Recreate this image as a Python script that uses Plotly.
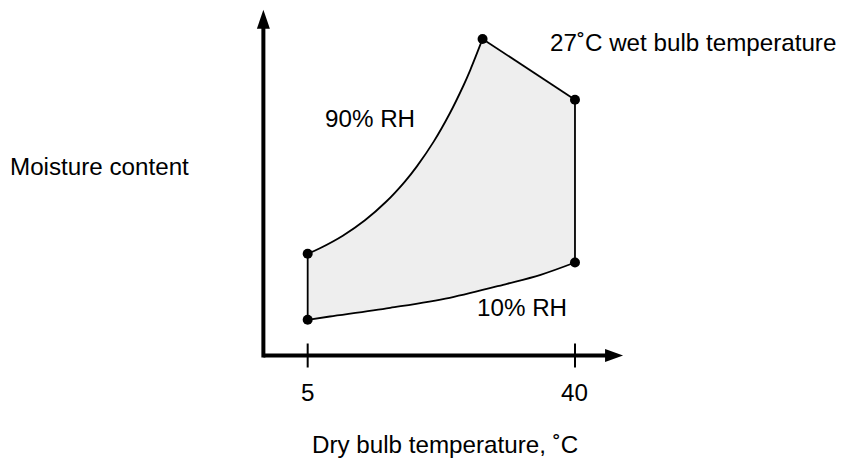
import plotly.graph_objects as go

# ---- data (dry bulb temperature, °C ; moisture content, arbitrary g/kg-like units) ----
rh90_temp = [5.0, 6.6, 9.6, 12.5, 15.3, 17.7, 19.3, 21.5, 23.6, 25.4, 26.3, 27.9]
rh90_moist = [7.12, 7.51, 8.39, 9.47, 10.78, 12.16, 13.24, 14.97, 16.94, 18.90, 20.0, 22.16]
rh10_temp = [5.0, 7.9, 15.8, 23.6, 31.1, 35.5, 40.0]
rh10_moist = [2.50, 2.73, 3.34, 4.04, 5.02, 5.65, 6.51]
wetbulb_temp = [27.9, 40.0]
wetbulb_moist = [22.16, 17.9]
corner_temp = [5.0, 5.0, 27.9, 40.0, 40.0]
corner_moist = [2.50, 7.12, 22.16, 17.9, 6.51]
tick_vals = [5, 40]
tick_text = ["5", "40"]

FONT = "Liberation Sans, Arial, Helvetica, sans-serif"
FS = 24.2
BLACK = "#000000"

fig = go.Figure()

# shaded region
poly_x = rh10_temp + [wetbulb_temp[1]] + rh90_temp[::-1]
poly_y = rh10_moist + [wetbulb_moist[1]] + rh90_moist[::-1]
fig.add_trace(go.Scatter(x=poly_x, y=poly_y, fill="toself", fillcolor="#eeeeee",
                         mode="lines", line=dict(width=0), hoverinfo="skip"))

line_style = dict(color=BLACK, width=1.8)
fig.add_trace(go.Scatter(x=rh90_temp, y=rh90_moist, mode="lines",
                         line=dict(shape="spline", **line_style)))
fig.add_trace(go.Scatter(x=rh10_temp, y=rh10_moist, mode="lines",
                         line=dict(shape="spline", **line_style)))
fig.add_trace(go.Scatter(x=wetbulb_temp, y=wetbulb_moist, mode="lines", line=line_style))
fig.add_trace(go.Scatter(x=[rh10_temp[-1], wetbulb_temp[1]], y=[rh10_moist[-1], wetbulb_moist[1]],
                         mode="lines", line=line_style))
fig.add_trace(go.Scatter(x=[rh10_temp[0], rh90_temp[0]], y=[rh10_moist[0], rh90_moist[0]],
                         mode="lines", line=line_style))
fig.add_trace(go.Scatter(x=corner_temp, y=corner_moist, mode="markers",
                         marker=dict(color=BLACK, size=10)))

# axes drawn as arrows
x_origin, y_origin = -0.8, 0.0
x_tip, y_tip = 46.3, 24.2
shapes = [
    dict(type="line", x0=x_origin, x1=x_tip - 1.5, y0=y_origin, y1=y_origin,
         line=dict(color=BLACK, width=4)),
    dict(type="line", x0=x_origin, x1=x_origin, y0=y_origin - 0.14, y1=y_tip - 1.1,
         line=dict(color=BLACK, width=4)),
    dict(type="path", xsizemode="pixel", ysizemode="pixel", xanchor=x_tip, yanchor=y_origin,
         path="M 0 0 L -18 6.5 L -18 -6.5 Z", fillcolor=BLACK, line=dict(width=0)),
    dict(type="path", xsizemode="pixel", ysizemode="pixel", xanchor=x_origin, yanchor=y_tip,
         path="M 0 0 L -6.5 -19 L 6.5 -19 Z", fillcolor=BLACK, line=dict(width=0)),
]
for tv in tick_vals:
    shapes.append(dict(type="line", ysizemode="pixel", yanchor=y_origin, x0=tv, x1=tv,
                       y0=-12, y1=12, line=dict(color=BLACK, width=2)))

annotations = []
for tv, tt in zip(tick_vals, tick_text):
    annotations.append(dict(x=tv, y=y_origin, text=tt, showarrow=False, yshift=-37,
                            xanchor="center", yanchor="middle",
                            font=dict(family=FONT, size=FS, color=BLACK)))

# page has an 8px body margin, so the figure is offset by 8px
OFF = 8
W, H = 830, 450
def txt(t, px, py, xanchor="left"):
    annotations.append(dict(x=(px - OFF) / W, y=1 - (py - OFF) / H, xref="paper", yref="paper",
                            text=t, showarrow=False, xanchor=xanchor, yanchor="middle",
                            font=dict(family=FONT, size=FS, color=BLACK)))

txt("Moisture content", 8, 166)
txt("Dry bulb temperature, ˚C", 310, 444)
txt("90% RH", 323, 118)
txt("10% RH", 475, 307)
txt("27˚C wet bulb temperature", 548, 43)

fig.update_layout(
    width=W, height=H, margin=dict(l=0, r=0, t=0, b=0),
    paper_bgcolor="white", plot_bgcolor="white", showlegend=False,
    xaxis=dict(range=[-34.24, 74.44], visible=False, fixedrange=True),
    yaxis=dict(range=[-7.175, 24.325], visible=False, fixedrange=True),
    shapes=shapes, annotations=annotations,
)
fig.write_html("out.html")
